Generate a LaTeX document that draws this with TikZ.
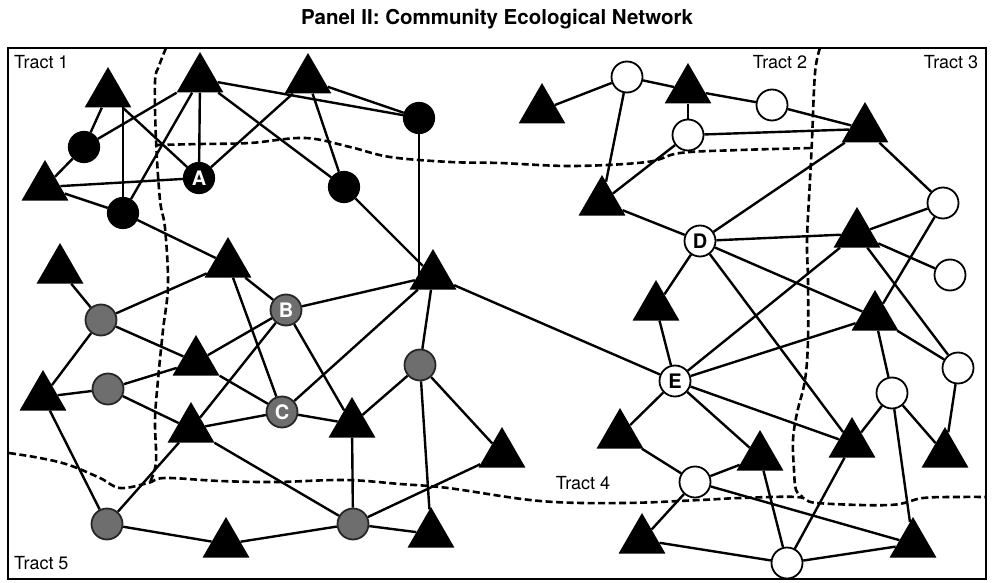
\documentclass[tikz,border=0pt]{standalone}
\usepackage{fontspec}
\setmainfont{TeX Gyre Heros}
\usetikzlibrary{shapes.geometric}
\pgfdeclarelayer{bg}
\pgfsetlayers{bg,main}
\definecolor{nodegray}{RGB}{110,110,110}
\begin{document}
\begin{tikzpicture}[x=1pt,y=-1pt,
 tri/.style={regular polygon, regular polygon sides=3, minimum size=54pt, inner sep=0pt, fill=black},
 bc/.style={circle, minimum size=31pt, inner sep=0pt, fill=black, draw=black, line width=1.2pt},
 gc/.style={circle, minimum size=31pt, inner sep=0pt, fill=nodegray, draw=black!85, line width=1.8pt},
 wc/.style={circle, minimum size=31pt, inner sep=0pt, fill=white, draw=black, line width=1.8pt},
 lab/.style={font=\fontsize{20}{20}\selectfont\bfseries},
 edge/.style={line width=2.4pt},
 tractline/.style={line width=2.6pt, dash pattern=on 7pt off 3.5pt},
 tractlabel/.style={font=\fontsize{18}{18}\selectfont, inner sep=0pt}
]
\useasboundingbox (0,0) rectangle (993,583);
\node[font=\fontsize{20.5}{20.5}\selectfont\bfseries] (title) at (497,19) {Panel II: Community Ecological Network};
\draw[line width=2.8pt] (8,48) rectangle (986,579);

% tract boundaries
\draw[tractline] plot[smooth, tension=0.6] coordinates {(166,48) (159,66) (155,82) (156,140) (160,200) (165,228) (168,285) (163,330) (158,380) (155,420) (156,462) (150,482)};
\draw[tractline] plot[smooth, tension=0.6] coordinates {(157,145) (200,144) (250,143) (305,138) (350,147) (390,157) (450,162) (500,163) (573,166) (647,162) (680,153) (740,150) (813,148)};
\draw[tractline] plot[smooth, tension=0.6] coordinates {(820,48) (815,73) (812,140) (810,180) (807,240) (808,280) (808,340) (805,380) (797,413) (793,440) (794,470) (796,490) (803,497)};
\draw[tractline] plot[smooth, tension=0.6] coordinates {(9,453) (40,458) (69,465) (100,478) (120,488) (148,483) (165,478) (220,481) (276,482) (345,480) (400,484) (448,488) (540,501) (623,503) (700,500) (740,498) (797,497) (817,503) (890,505) (923,498) (960,497) (985,497)};

% labels
\node[tractlabel, anchor=west] (l1) at (14,62) {Tract 1};
\node[tractlabel] (l2) at (780,62) {Tract 2};
\node[tractlabel] (l3) at (951,62) {Tract 3};
\node[tractlabel] (l4) at (583,483) {Tract 4};
\node[tractlabel, anchor=west] (l5) at (14,563) {Tract 5};

% triangles
\node[tri] (t1) at (108,94) {};
\node[tri] (t2) at (200,79) {};
\node[tri] (t3) at (308,80) {};
\node[tri] (t4) at (45,187) {};
\node[tri] (t5) at (228,264) {};
\node[tri] (t6) at (60,270) {};
\node[tri] (t7) at (196,362) {};
\node[tri] (t8) at (43,397) {};
\node[tri] (t9) at (191,429) {};
\node[tri] (t10) at (433,276) {};
\node[tri] (t11) at (352,424) {};
\node[tri] (t12) at (502,454) {};
\node[tri] (t13) at (226,544) {};
\node[tri] (t14) at (431,534) {};
\node[tri] (t15) at (542,110) {};
\node[tri] (t16) at (688,90) {};
\node[tri] (t17) at (865,129) {};
\node[tri] (t18) at (602,202) {};
\node[tri] (t19) at (857,234) {};
\node[tri] (t20) at (875,317) {};
\node[tri] (t21) at (656,307) {};
\node[tri] (t22) at (620,435) {};
\node[tri] (t23) at (760,457) {};
\node[tri] (t24) at (852,444) {};
\node[tri] (t25) at (945,454) {};
\node[tri] (t26) at (642,540) {};
\node[tri] (t27) at (913,544) {};

% black circles
\node[bc] (cb1) at (84,147) {};
\node[bc, text=white, lab] (A) at (199,178) {A};
\node[bc] (cb2) at (123,213) {};
\node[bc] (cb3) at (344,187) {};
\node[bc] (cb4) at (419,118) {};
% gray circles
\node[gc] (g1) at (101,320) {};
\node[gc] (g2) at (108,389) {};
\node[gc, text=white, lab] (B) at (286,310) {B};
\node[gc, text=white, lab] (C) at (282,412) {C};
\node[gc] (g3) at (420,365) {};
\node[gc] (g4) at (107,524) {};
\node[gc] (g5) at (353,524) {};
% white circles
\node[wc] (w1) at (627,77) {};
\node[wc] (w2) at (772,105) {};
\node[wc] (w3) at (688,135) {};
\node[wc, lab] (D) at (700,241) {D};
\node[wc] (w4) at (943,203) {};
\node[wc] (w5) at (950,275) {};
\node[wc, lab] (E) at (675,381) {E};
\node[wc] (w6) at (958,368) {};
\node[wc] (w7) at (892,393) {};
\node[wc] (w8) at (695,482) {};
\node[wc] (w9) at (787,563) {};

\begin{pgfonlayer}{bg}
% top left
\draw[edge] (t1) -- (cb1);
\draw[edge] (cb1) -- (t4);
\draw[edge] (cb2) -- (cb2 |- t1);
\draw[edge] (t1) -- (A);
\draw[edge] (t2) -- (cb1);
\draw[edge] (t2) -- (A);
\draw[edge] (t2) -- (cb2);
\draw[edge] (t2) -- (cb3);
\draw[edge] (t2) -- (cb4);
\draw[edge] (t3) -- (cb4);
\draw[edge] (t3) -- (A);
\draw[edge] (t3) -- (cb3);
\draw[edge] (cb3) -- (t10);
\draw[edge] (cb4) -- (cb4 |- t10);
\draw[edge] (t4) -- (A);
\draw[edge] (t4) -- (cb2);
\draw[edge] (cb2) -- (t5);
% middle left
\draw[edge] (t6) -- (g1);
\draw[edge] (g1) -- (t5);
\draw[edge] (g1) -- (t7);
\draw[edge] (t7) -- (C);
\draw[edge] (t8) -- (g1);
\draw[edge] (t8) -- (g2);
\draw[edge] (g2) -- (t7);
\draw[edge] (g2) -- (t9);
\draw[edge] (t9) -- (C);
\draw[edge] (t9) -- (B);
\draw[edge] (t7) -- (B);
\draw[edge] (t5) -- (B);
\draw[edge] (t5) -- (C);
\draw[edge] (B) -- (t10);
\draw[edge] (B) -- (t11);
\draw[edge] (C) -- (t10);
\draw[edge] (C) -- (t11);
\draw[edge] (g3) -- (t10);
\draw[edge] (g3) -- (t11);
\draw[edge] (g3) -- (t14);
\draw[edge] (g3) -- (t12);
\draw[edge] (t11) -- (g5);
% bottom left
\draw[edge] (t8) -- (g4);
\draw[edge] (g4) -- (t9);
\draw[edge] (g4) -- (t13);
\draw[edge] (t13) -- (g5);
\draw[edge] (t9) -- (g5);
\draw[edge] (g5) -- (t14);
\draw[edge] (g5) -- (t12);
% centre
\draw[edge] (t10) -- (E);
% right top
\draw[edge] (t15) -- (w1);
\draw[edge] (w1) -- (t16);
\draw[edge] (w1) -- (t18);
\draw[edge] (t16) -- (w2);
\draw[edge] (t16) -- (w3);
\draw[edge] (w2) -- (t17);
\draw[edge] (w3) -- (t17);
\draw[edge] (w3) -- (t18);
\draw[edge] (t18) -- (D);
\draw[edge] (D) -- (t17);
\draw[edge] (t17) -- (w4);
% right middle
\draw[edge] (D) -- (t19);
\draw[edge] (t19) -- (w4);
\draw[edge] (t19) -- (w5);
\draw[edge] (D) -- (t20);
\draw[edge] (D) -- (t21);
\draw[edge] (D) -- (t24);
\draw[edge] (w4) -- (t20);
\draw[edge] (t19) -- (w6);
\draw[edge] (t20) -- (w6);
\draw[edge] (t20) -- (w7);
\draw[edge] (t20) -- (E);
\draw[edge] (E) -- (t19);
\draw[edge] (E) -- (t21);
\draw[edge] (E) -- (t22);
\draw[edge] (E) -- (t23);
\draw[edge] (E) -- (t24);
\draw[edge] (w6) -- (t25);
\draw[edge] (w7) -- (t24);
\draw[edge] (w7) -- (t27);
\draw[edge] (w7) -- (t25);
% bottom right
\draw[edge] (t22) -- (w8);
\draw[edge] (t23) -- (w8);
\draw[edge] (w8) -- (t26);
\draw[edge] (w8) -- (t27);
\draw[edge] (t23) -- (w9);
\draw[edge] (t24) -- (w9);
\draw[edge] (t26) -- (w9);
\draw[edge] (w9) -- (t27);
\end{pgfonlayer}
\end{tikzpicture}
\end{document}
